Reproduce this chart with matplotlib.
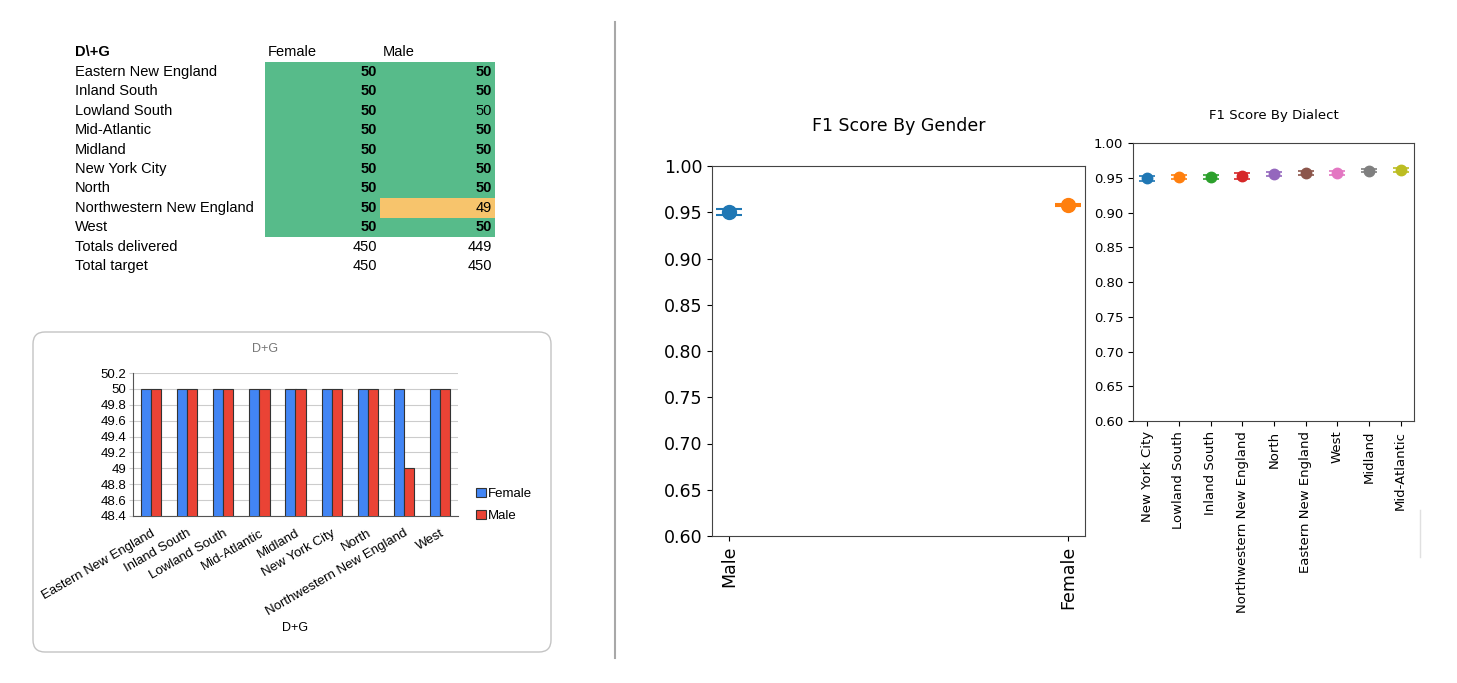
import numpy as np
import matplotlib.pyplot as plt
from matplotlib.patches import Rectangle, FancyBboxPatch

# ── Données ─────────────────────────────────────
dialects = ['Eastern New England', 'Inland South', 'Lowland South', 'Mid-Atlantic',
            'Midland', 'New York City', 'North', 'Northwestern New England', 'West']
female_counts = [50, 50, 50, 50, 50, 50, 50, 50, 50]
male_counts = [50, 50, 50, 50, 50, 50, 50, 49, 50]
target_per_cell = 50
plain_cells = [('Lowland South', 'Male')]   # cellules non grasses

gender_labels = ['Male', 'Female']
gender_f1 = [0.950, 0.9575]
gender_ci = [0.0035, 0.001]

dialect_order = ['New York City', 'Lowland South', 'Inland South', 'Northwestern New England',
                 'North', 'Eastern New England', 'West', 'Midland', 'Mid-Atlantic']
dialect_f1 = [0.949, 0.951, 0.951, 0.952, 0.955, 0.957, 0.957, 0.960, 0.961]
dialect_ci = [0.004, 0.003, 0.003, 0.0045, 0.003, 0.003, 0.003, 0.002, 0.003]

f1_ticks = [0.60, 0.65, 0.70, 0.75, 0.80, 0.85, 0.90, 0.95, 1.00]
bar_ticks = [48.4, 48.6, 48.8, 49.0, 49.2, 49.4, 49.6, 49.8, 50.0, 50.2]

W, H = 1457, 683
SHEET = 'Liberation Sans'
GREEN, ORANGE = '#57BB8A', '#F7C46C'
BLUE, RED = '#4285F4', '#EA4335'
TAB = plt.rcParams['axes.prop_cycle'].by_key()['color']

fig = plt.figure(figsize=(W / 100, H / 100), dpi=100)


def px_axes(x0, y0, x1, y1):
    return fig.add_axes([x0 / W, 1 - y1 / H, (x1 - x0) / W, (y1 - y0) / H])


# ── Fond (coordonnées pixel) ────────────────────
bg = fig.add_axes([0, 0, 1, 1])
bg.set_xlim(0, W)
bg.set_ylim(H, 0)
bg.axis('off')
bg.patch.set_alpha(0)

# ── Tableau ─────────────────────────────────────
row_y0, row_h = 62, 19.45
cols = {'Female': (265, 380), 'Male': (380, 495)}
bg.text(75, 52, 'D\\+G', fontsize=10.5, family=SHEET, weight='bold', va='center')
bg.text(268, 52, 'Female', fontsize=10.5, family=SHEET, va='center')
bg.text(383, 52, 'Male', fontsize=10.5, family=SHEET, va='center')

for i, d in enumerate(dialects):
    y = row_y0 + (i + 0.5) * row_h
    bg.text(75, y, d, fontsize=10.5, family=SHEET, va='center')
    for col, vals in (('Female', female_counts), ('Male', male_counts)):
        xa, xb = cols[col]
        ok = vals[i] == target_per_cell
        bg.add_patch(Rectangle((xa, row_y0 + i * row_h), xb - xa, row_h,
                               facecolor=GREEN if ok else ORANGE, edgecolor='none'))
        bold = ok and (d, col) not in plain_cells
        bg.text(xb - 3, y, str(vals[i]), fontsize=10.5, family=SHEET, va='center',
                ha='right', weight='bold' if bold else 'normal')

totals = [('Totals delivered', sum(female_counts), sum(male_counts)),
          ('Total target', target_per_cell * len(dialects), target_per_cell * len(dialects))]
for k, (lab, f, m) in enumerate(totals):
    y = row_y0 + (len(dialects) + k + 0.5) * row_h
    bg.text(75, y, lab, fontsize=10.5, family=SHEET, va='center')
    bg.text(cols['Female'][1] - 3, y, str(f), fontsize=10.5, family=SHEET, va='center', ha='right')
    bg.text(cols['Male'][1] - 3, y, str(m), fontsize=10.5, family=SHEET, va='center', ha='right')

# ── Graphique à barres (style tableur) ──────────
bg.add_patch(FancyBboxPatch((33, 332), 518, 320, boxstyle='round,pad=0,rounding_size=12',
                            facecolor='white', edgecolor='#c4c4c4', lw=1))
bg.text(265, 349, 'D+G', fontsize=9, family=SHEET, color='#777777', ha='center', va='center')
bg.text(295, 628, 'D+G', fontsize=9, family=SHEET, ha='center', va='center')

bax = px_axes(133, 373, 458, 516)
x = np.arange(len(dialects))
bw = 0.28
bax.bar(x - bw / 2, female_counts, bw, color=BLUE, edgecolor='#333333', lw=0.8,
        label='Female', zorder=3)
bax.bar(x + bw / 2, male_counts, bw, color=RED, edgecolor='#333333', lw=0.8,
        label='Male', zorder=3)
bax.set_ylim(48.4, 50.2)
bax.set_xlim(-0.5, len(dialects) - 0.5)
bax.set_yticks(bar_ticks)
bax.set_yticklabels([f'{v:g}' for v in bar_ticks], family=SHEET, fontsize=9.5)
bax.yaxis.grid(True, color='#cccccc', lw=0.8, zorder=0)
bax.set_axisbelow(True)
bax.tick_params(axis='y', length=3, color='#cccccc', pad=2)
bax.tick_params(axis='x', length=0, pad=8)
bax.set_xticks(x)
bax.set_xticklabels(dialects, rotation=30, ha='right', rotation_mode='anchor',
                    family=SHEET, fontsize=9.5)
for s in ('top', 'right'):
    bax.spines[s].set_visible(False)
bax.spines['left'].set_color('#555555')
bax.spines['bottom'].set_color('#555555')
leg = bax.legend(loc='center left', bbox_to_anchor=(1.02, 0.075), frameon=False,
                 handlelength=0.7, handleheight=0.7, handletextpad=0.2,
                 labelspacing=0.75, prop={'family': SHEET, 'size': 9.5})

# ── Séparateur ──────────────────────────────────
bg.plot([615, 615], [22, 658], color='#a8a8a8', lw=1.5)
bg.plot([1420, 1420], [510, 557], color='#e0e0e0', lw=1)

# ── F1 par genre ────────────────────────────────
gax = px_axes(712, 166, 1085, 536)
for i, (v, e) in enumerate(zip(gender_f1, gender_ci)):
    gax.errorbar(i, v, yerr=e, fmt='o', color=TAB[i], markersize=10,
                 capsize=9.5, elinewidth=1.5, capthick=1.5)
gax.set_xticks(range(len(gender_labels)))
gax.set_xticklabels(gender_labels, rotation=90, fontsize=12.5)
gax.set_xlim(-0.05, 1.05)
gax.set_ylim(0.6, 1.0)
gax.set_yticks(f1_ticks)
gax.set_yticklabels([f'{v:.2f}' for v in f1_ticks], fontsize=12.5)
gax.set_title('F1 Score By Gender', fontsize=12.5, pad=25)
for s in gax.spines.values():
    s.set_color('#444444')

# ── F1 par dialecte ─────────────────────────────
dax = px_axes(1133, 143, 1414, 421)
for i, (v, e) in enumerate(zip(dialect_f1, dialect_ci)):
    dax.errorbar(i, v, yerr=e, fmt='o', color=TAB[i], markersize=7.5,
                 capsize=5.5, elinewidth=1.2, capthick=1.2)
dax.set_xticks(range(len(dialect_order)))
dax.set_xticklabels(dialect_order, rotation=90, fontsize=9.5)
dax.set_xlim(-0.45, len(dialect_order) - 0.58)
dax.set_ylim(0.6, 1.0)
dax.set_yticks(f1_ticks)
dax.set_yticklabels([f'{v:.2f}' for v in f1_ticks], fontsize=9.5)
dax.set_title('F1 Score By Dialect', fontsize=9.5, pad=17)
for s in dax.spines.values():
    s.set_color('#444444')

fig.savefig('out.png', dpi=100)
